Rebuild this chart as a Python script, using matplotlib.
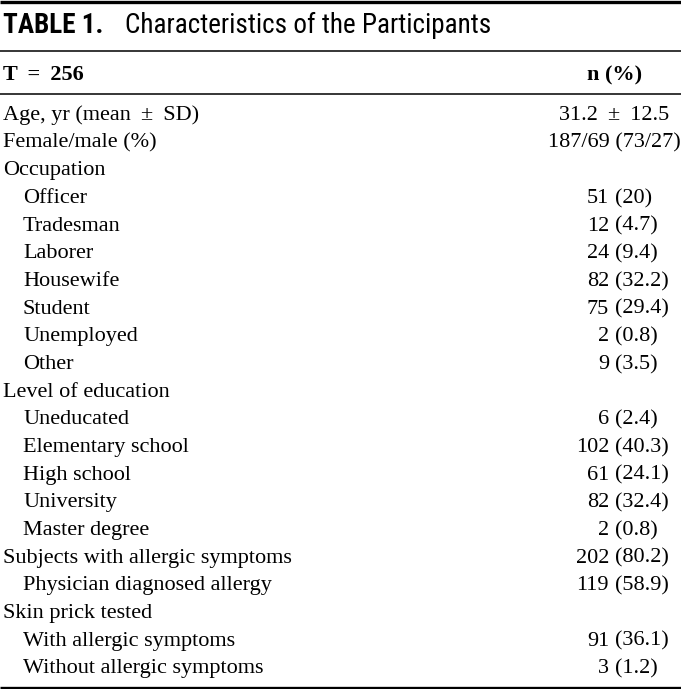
import matplotlib.pyplot as plt
from matplotlib import font_manager

# table content
title_label = "TABLE 1."
title_text = "Characteristics of the Participants"
header_left = "T \u2009=\u2009 256"
header_right = "n (%)"

summary_labels = ["Age, yr (mean \u2009\u00b1\u2009 SD)", "Female/male (%)"]
summary_values = ["31.2 \u2009\u00b1\u2009 12.5", "187/69 (73/27)"]

occupation_labels = ["Officer", "Tradesman", "Laborer", "Housewife", "Student", "Unemployed", "Other"]
occupation_n = [51, 12, 24, 82, 75, 2, 9]
occupation_pct = ["20", "4.7", "9.4", "32.2", "29.4", "0.8", "3.5"]

education_labels = ["Uneducated", "Elementary school", "High school", "University", "Master degree"]
education_n = [6, 102, 61, 82, 2]
education_pct = ["2.4", "40.3", "24.1", "32.4", "0.8"]

allergy_label = "Subjects with allergic symptoms"
allergy_n = 202
allergy_pct = "80.2"
diagnosed_label = "Physician diagnosed allergy"
diagnosed_n = 119
diagnosed_pct = "58.9"

skin_labels = ["With allergic symptoms", "Without allergic symptoms"]
skin_n = [91, 3]
skin_pct = ["36.1", "1.2"]

# rows: (label, indented, n, pct, plain value)
rows = []
for lab, val in zip(summary_labels, summary_values):
    rows.append((lab, False, None, None, val))
rows.append(("Occupation", False, None, None, None))
for lab, n, p in zip(occupation_labels, occupation_n, occupation_pct):
    rows.append((lab, True, n, p, None))
rows.append(("Level of education", False, None, None, None))
for lab, n, p in zip(education_labels, education_n, education_pct):
    rows.append((lab, True, n, p, None))
rows.append((allergy_label, False, allergy_n, allergy_pct, None))
rows.append((diagnosed_label, True, diagnosed_n, diagnosed_pct, None))
rows.append(("Skin prick tested", False, None, None, None))
for lab, n, p in zip(skin_labels, skin_n, skin_pct):
    rows.append((lab, True, n, p, None))

W, H = 681, 689
fig = plt.figure(figsize=(W / 100, H / 100), dpi=100)
ax = fig.add_axes([0, 0, 1, 1])
ax.set_xlim(0, W)
ax.set_ylim(H, 0)
ax.axis("off")

serif = "Liberation Serif"
installed = {f.name for f in font_manager.fontManager.ttflist}
sans = "Roboto Condensed" if "Roboto Condensed" in installed else "Liberation Sans"
fs = 16

# rules
ax.plot([0, W], [1.5, 1.5], color="black", lw=2.4, solid_capstyle="butt")
ax.plot([0, W], [51, 51], color="black", lw=1.1, solid_capstyle="butt")
ax.plot([0, W], [94, 94], color="black", lw=1.1, solid_capstyle="butt")
ax.plot([0, W], [687.5, 687.5], color="black", lw=2.4, solid_capstyle="butt")

# title
ax.text(3, 33, title_label, family=sans, fontsize=19.5, fontweight="bold", va="baseline", ha="left")
ax.text(125, 33, title_text, family=sans, fontsize=19.5, va="baseline", ha="left")

# header
ax.text(3, 80, header_left, family=serif, fontsize=fs, fontweight="bold", va="baseline", ha="left")
ax.text(615, 80, header_right, family=serif, fontsize=fs, fontweight="bold", va="baseline", ha="center")

y0, step = 120, 27.67
n_right, pct_left = 609, 615
for i, (lab, indented, n, p, val) in enumerate(rows):
    y = y0 + i * step
    ax.text(23 if indented else 3, y, lab, family=serif, fontsize=fs, va="baseline", ha="left")
    if val is not None:
        ax.text(614, y, val, family=serif, fontsize=fs, va="baseline", ha="center")
    elif n is not None:
        ax.text(n_right, y, str(n), family=serif, fontsize=fs, va="baseline", ha="right")
        ax.text(pct_left, y, "(" + p + ")", family=serif, fontsize=fs, va="baseline", ha="left")

fig.savefig("out.png", dpi=100)
